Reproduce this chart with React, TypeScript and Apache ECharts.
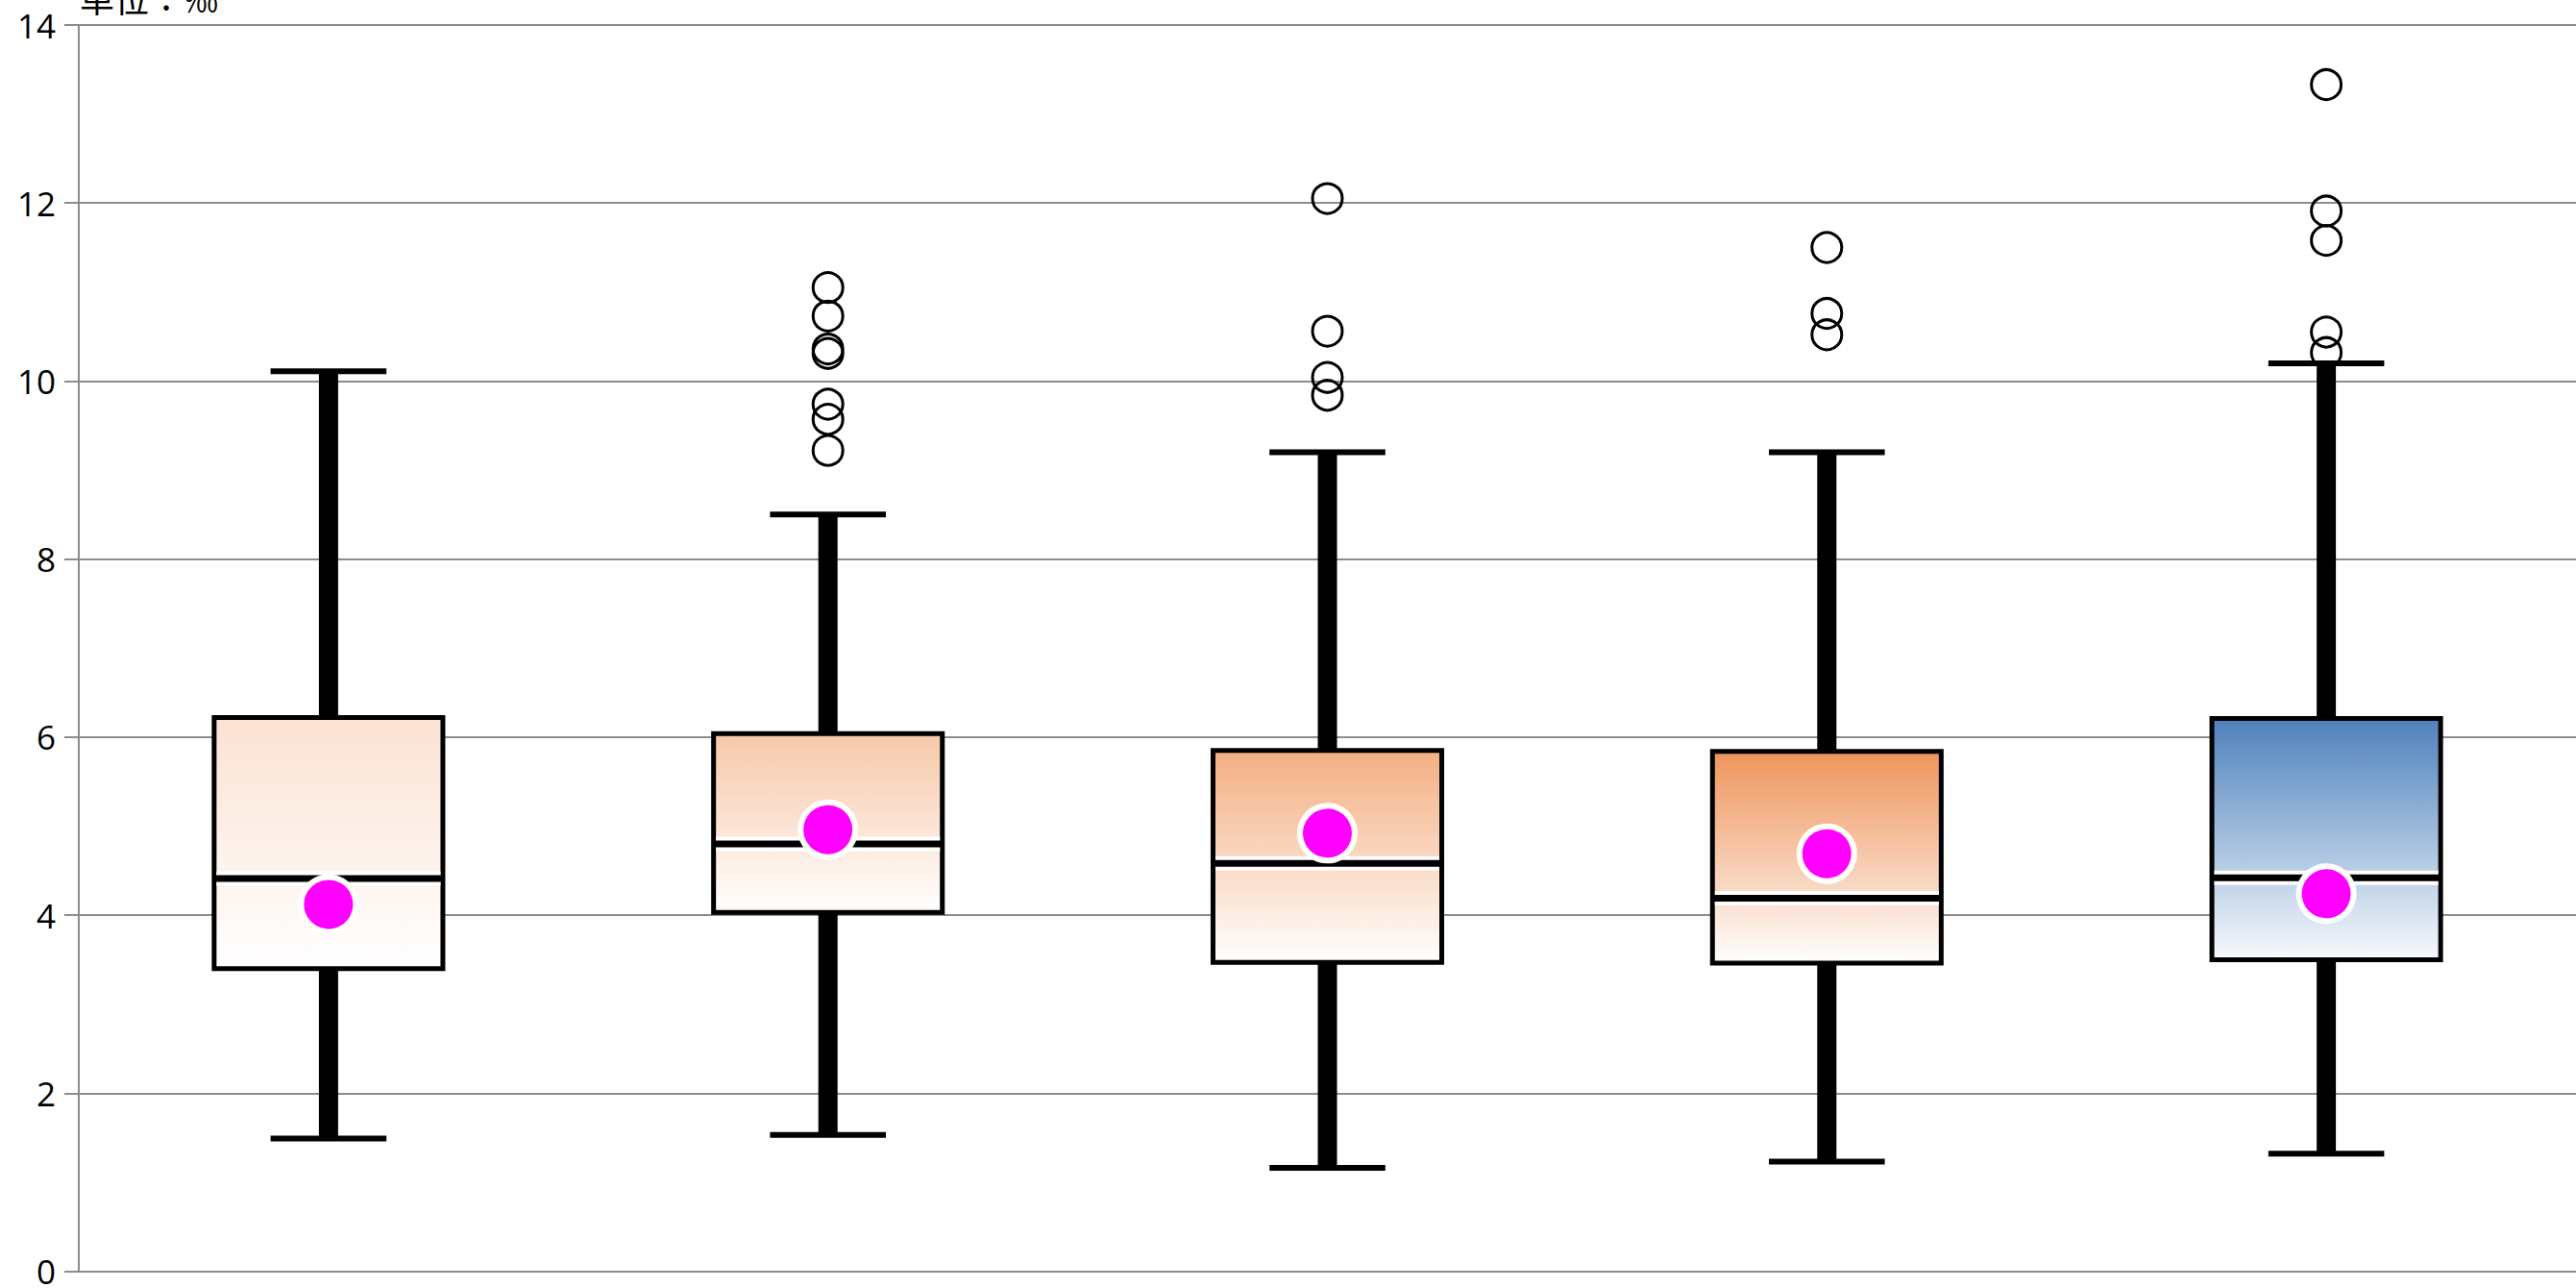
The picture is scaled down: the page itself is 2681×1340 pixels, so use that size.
import React, { useEffect, useRef } from "react";
import * as echarts from "echarts";

const categories = ["1", "2", "3", "4", "5"];
const lowWhisker = [1.49, 1.53, 1.16, 1.23, 1.32];
const q1 = [3.4, 4.03, 3.47, 3.46, 3.5];
const median = [4.41, 4.8, 4.58, 4.19, 4.42];
const q3 = [6.22, 6.04, 5.85, 5.84, 6.21];
const highWhisker = [10.11, 8.5, 9.2, 9.2, 10.2];
const means = [4.12, 4.96, 4.92, 4.69, 4.24];
const outlierCategory = [1, 1, 1, 1, 1, 1, 1, 2, 2, 2, 2, 3, 3, 3, 4, 4, 4, 4, 4];
const outlierValues = [11.05, 10.73, 10.36, 10.31, 9.74, 9.57, 9.22, 12.05, 10.56, 10.04, 9.84, 11.5, 10.76, 10.52, 13.33, 11.91, 11.58, 10.55, 10.32];
const yTicks = { min: 0, max: 14, interval: 2 };
const unitLabel = "单位：‰";

const topColors = ["#FBE2D3", "#F7C7A8", "#F3AF82", "#EF945B", "#4F81BD"];
const bottomColors = ["#FFFFFF", "#FFFFFF", "#FFFFFF", "#FFFFFF", "#F7FAFD"];

export default function App() {
  const ref = useRef<HTMLDivElement>(null);
  useEffect(() => {
    if (!ref.current) return;
    const chart = echarts.init(ref.current, null, { renderer: "svg" });
    const boxData = categories.map((_, i) => [i, lowWhisker[i], q1[i], median[i], q3[i], highWhisker[i]]);
    const outlierData = outlierCategory.map((c, i) => [c, outlierValues[i]]);
    const meanData = means.map((m, i) => [i, m]);
    const gray = "#8c8c8c";
    chart.setOption({
      animation: false,
      grid: { left: 82, right: -1, top: 26, bottom: 14 },
      xAxis: {
        type: "category",
        data: categories,
        boundaryGap: true,
        axisLabel: { show: false },
        axisTick: { show: false },
        axisLine: { show: true, lineStyle: { color: gray, width: 2 } },
        splitLine: { show: false },
      },
      yAxis: {
        type: "value",
        min: yTicks.min,
        max: yTicks.max,
        interval: yTicks.interval,
        axisLine: { show: true, lineStyle: { color: gray, width: 2 } },
        axisTick: { show: true, length: 15, lineStyle: { color: gray, width: 2 } },
        axisLabel: { color: "#000", fontSize: 35, fontFamily: "Open Sans", margin: 24 },
        splitLine: { show: true, lineStyle: { color: gray, width: 2 } },
      },
      graphic: [
        {
          type: "text",
          left: 83,
          top: -21,
          style: {
            text: unitLabel,
            fontSize: 36,
            fontFamily: "Noto Sans CJK TC",
            fill: "#000",
          },
        },
      ],
      series: [
        {
          type: "custom",
          data: boxData,
          encode: { x: 0, y: [1, 2, 3, 4, 5] },
          z: 2,
          renderItem: (params: any, api: any) => {
            const i = api.value(0);
            const lowP = api.coord([i, api.value(1)]);
            const q1P = api.coord([i, api.value(2)]);
            const medP = api.coord([i, api.value(3)]);
            const q3P = api.coord([i, api.value(4)]);
            const highP = api.coord([i, api.value(5)]);
            const band = api.size([1, 0])[0];
            const boxW = band * 0.458;
            const capW = band * 0.232;
            const x = lowP[0];
            const grad = new echarts.graphic.LinearGradient(0, 0, 0, 1, [
              { offset: 0, color: topColors[i] },
              { offset: 1, color: bottomColors[i] },
            ]);
            return {
              type: "group",
              children: [
                { type: "line", shape: { x1: x, y1: highP[1], x2: x, y2: q3P[1] }, style: { stroke: "#000", lineWidth: 20 } },
                { type: "line", shape: { x1: x, y1: q1P[1], x2: x, y2: lowP[1] }, style: { stroke: "#000", lineWidth: 20 } },
                { type: "line", shape: { x1: x - capW / 2, y1: highP[1], x2: x + capW / 2, y2: highP[1] }, style: { stroke: "#000", lineWidth: 6 } },
                { type: "line", shape: { x1: x - capW / 2, y1: lowP[1], x2: x + capW / 2, y2: lowP[1] }, style: { stroke: "#000", lineWidth: 6 } },
                {
                  type: "rect",
                  shape: { x: x - boxW / 2, y: q3P[1], width: boxW, height: q1P[1] - q3P[1] },
                  style: { fill: grad, stroke: "#000", lineWidth: 5 },
                },
                {
                  type: "rect",
                  shape: { x: x - boxW / 2 + 2.5, y: medP[1] - 7.5, width: boxW - 5, height: 15 },
                  style: { fill: "#fff" },
                },
                {
                  type: "line",
                  shape: { x1: x - boxW / 2, y1: medP[1], x2: x + boxW / 2, y2: medP[1] },
                  style: { stroke: "#000", lineWidth: 7 },
                },
              ],
            };
          },
        },
        {
          type: "scatter",
          data: outlierData,
          z: 3,
          symbol: "circle",
          symbolSize: 31,
          itemStyle: { color: "rgba(0,0,0,0)", borderColor: "#000", borderWidth: 3, opacity: 1 },
        },
        {
          type: "scatter",
          data: meanData,
          z: 4,
          symbol: "circle",
          symbolSize: 57,
          itemStyle: { color: "#FF00FF", borderColor: "#fff", borderWidth: 6, opacity: 1 },
        },
      ],
    });
    return () => chart.dispose();
  }, []);
  return (
    <div
      ref={ref}
      style={{ position: "fixed", left: 0, top: 0, width: 2681, height: 1340, background: "#fff" }}
    />
  );
}
